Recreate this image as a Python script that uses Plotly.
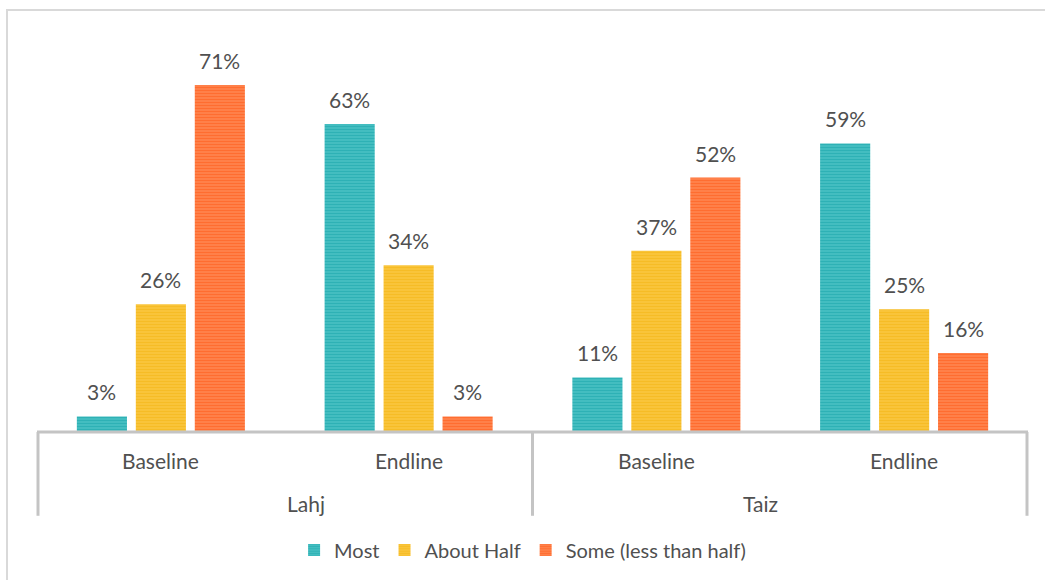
import plotly.graph_objects as go

regions = ["Lahj", "Lahj", "Taiz", "Taiz"]
phases = ["Baseline", "Endline", "Baseline", "Endline"]
series_names = ["Most", "About Half", "Some (less than half)"]
most = [3, 63, 11, 59]
about_half = [26, 34, 37, 25]
some = [71, 3, 52, 16]

cats = [f"{r} {p}" for r, p in zip(regions, phases)]
values = [most, about_half, some]
dark = ["#079aa0", "#f2ab00", "#ff4a00"]
light = ["#55c8cb", "#fbcc4c", "#ff9060"]

W, H = 1045, 580
ml, mr, mt, mb = 37, 17, 41, 148
pw = W - ml - mr
ph = H - mt - mb
FONT = "Lato"
TXT = "#505050"
FS = 21

def px_x(px):
    return (px - ml) / pw

def px_y(py):
    return (H - mb - py) / ph

bargap, bargroupgap = 0.286, 0.15
slot = (1 - bargap) / 3  # width of each series slot in category units

fig = go.Figure()
annotations = []
for j, (name, vals, d, l) in enumerate(zip(series_names, values, dark, light)):
    fig.add_trace(go.Bar(
        name=name, x=cats, y=vals,
        marker=dict(color=l, line=dict(width=0),
                    pattern=dict(shape="-", fgcolor=d, bgcolor=l, size=3, solidity=0.65, fillmode="overlay")),
    ))
    for i, v in enumerate(vals):
        annotations.append(dict(x=i + (j - 1) * slot, xref="x", y=v, yref="y", text=f"{v}%",
                                showarrow=False, yanchor="bottom", yshift=10,
                                font=dict(family=FONT, size=FS, color=TXT)))

for c, p in zip(cats, phases):
    annotations.append(dict(x=c, xref="x", y=px_y(462), yref="paper", text=p, showarrow=False,
                            font=dict(family=FONT, size=FS, color=TXT), yanchor="middle"))
for i, r in enumerate(["Lahj", "Taiz"]):
    annotations.append(dict(x=px_x(ml + pw * (0.25 + 0.5 * i)), xref="paper", y=px_y(505), yref="paper",
                            text=r, showarrow=False,
                            font=dict(family=FONT, size=FS, color=TXT), yanchor="middle"))

shapes = [
    dict(type="rect", xref="paper", yref="paper", x0=px_x(7), x1=px_x(1060), y0=px_y(10), y1=px_y(600),
         line=dict(color="#d9d9d9", width=2), layer="below"),
    dict(type="line", xref="paper", yref="paper", x0=0, x1=1, y0=px_y(433), y1=px_y(433),
         line=dict(color="#c4c4c4", width=3)),
]
for xp in [ml + 1, ml + pw / 2, ml + pw - 1]:
    shapes.append(dict(type="line", xref="paper", yref="paper", x0=px_x(xp), x1=px_x(xp),
                       y0=px_y(433), y1=px_y(517), line=dict(color="#c4c4c4", width=3)))

fig.update_layout(
    width=W, height=H,
    margin=dict(l=ml, r=mr, t=mt, b=mb),
    paper_bgcolor="white", plot_bgcolor="white",
    barmode="group", bargap=bargap, bargroupgap=bargroupgap,
    xaxis=dict(showticklabels=False, showgrid=False, zeroline=False, showline=False, range=[-0.5, 3.5]),
    yaxis=dict(visible=False, range=[0, 80]),
    legend=dict(orientation="h", x=0.49, xanchor="center", y=px_y(550), yanchor="middle",
                font=dict(family=FONT, size=FS - 1, color=TXT), itemwidth=30,
                traceorder="normal"),
    annotations=annotations, shapes=shapes,
    showlegend=True,
)
fig.write_html("out.html")
